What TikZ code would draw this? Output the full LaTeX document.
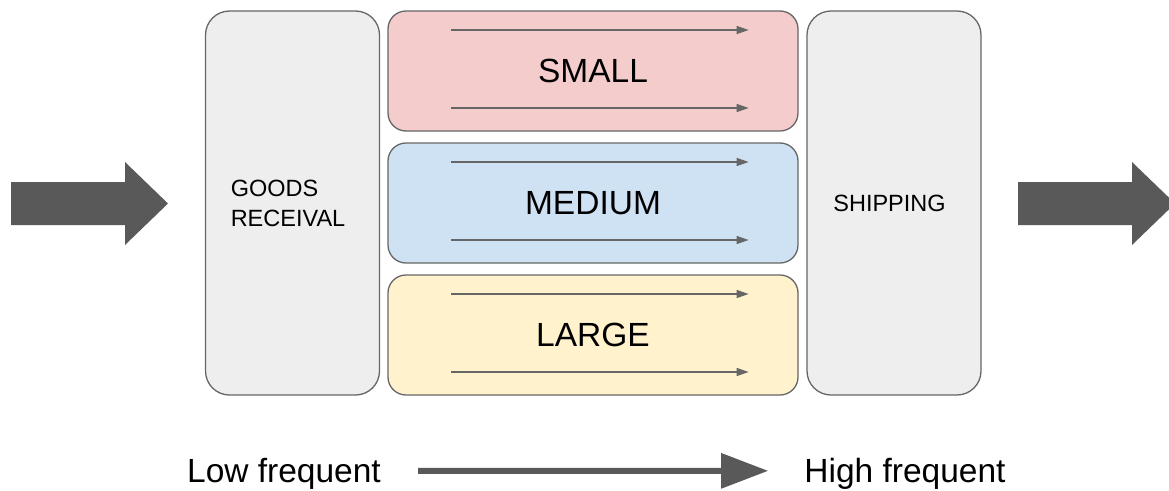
\documentclass[tikz,border=0pt]{standalone}
\usepackage{fontspec}
\setmainfont{Liberation Sans}
\usetikzlibrary{arrows.meta,calc}

\definecolor{boxgray}{HTML}{EEEEEE}
\definecolor{edgegray}{HTML}{666666}
\definecolor{smallred}{HTML}{F4CCCC}
\definecolor{medblue}{HTML}{CFE2F3}
\definecolor{largeyellow}{HTML}{FFF2CC}
\definecolor{darkarrow}{HTML}{595959}
\definecolor{lanegray}{HTML}{666666}

\tikzset{
  stage/.style={draw=edgegray, line width=1.3pt, fill=boxgray, rounded corners=24pt,
    minimum width=174pt, minimum height=384pt, inner sep=0pt},
  stagetext/.style={inner sep=0pt, font=\fontsize{23.5}{30}\selectfont},
  sizebox/.style={draw=edgegray, line width=1.3pt, rounded corners=18pt,
    minimum width=410pt, minimum height=120pt, inner sep=0pt,
    font=\fontsize{33.5}{40}\selectfont},
  lane/.style={draw=lanegray, line width=1.3pt, -{Triangle[length=12pt,width=8pt]}},
  bigtext/.style={inner sep=0pt, font=\fontsize{33.5}{40}\selectfont},
  freqarrow/.style={draw=darkarrow, line width=6pt, -{Triangle[length=47pt,width=34pt]}},
  bigarrow/.style={fill=darkarrow}
}

\begin{document}
\begin{tikzpicture}[x=1pt,y=-1pt]
  \clip (0,0) rectangle (1169,490);
  \useasboundingbox (0,0) rectangle (1169,490);

  % incoming and outgoing block arrows
  \fill[bigarrow] (11,182) -- (125,182) -- (125,162) -- (168,203.5) -- (125,245)
    -- (125,225) -- (11,225) -- cycle;
  \fill[bigarrow] (1018,182) -- (1132,182) -- (1132,162) -- (1175,203.5) -- (1132,245)
    -- (1132,225) -- (1018,225) -- cycle;

  % receiving and shipping stages
  \node[stage] (recv) at (292.5,203) {};
  \node[stagetext, align=left] (recvtext) at (288,203) {GOODS\\RECEIVAL};
  \node[stage] (ship) at (894,203) {};
  \node[stagetext] (shiptext) at (889.5,203) {SHIPPING};

  % storage lanes by item size
  \node[sizebox, fill=smallred] (small) at (593,71) {SMALL};
  \node[sizebox, fill=medblue] (medium) at (593,203) {MEDIUM};
  \node[sizebox, fill=largeyellow] (large) at (593,335) {LARGE};

  \foreach \b in {small,medium,large}{
    \draw[lane] ([shift={(64,-41)}]\b.west) -- ([shift={(-50,-41)}]\b.east);
    \draw[lane] ([shift={(64,37)}]\b.west) -- ([shift={(-50,37)}]\b.east);
  }

  % frequency scale
  \node[bigtext, anchor=base] (low) at (284,482) {Low frequent};
  \node[bigtext, anchor=base] (high) at (905,482) {High frequent};
  \draw[freqarrow, shorten <=37pt, shorten >=36pt]
    ([yshift=2.5pt]low.east) -- ([yshift=2.5pt]high.west);
\end{tikzpicture}
\end{document}
